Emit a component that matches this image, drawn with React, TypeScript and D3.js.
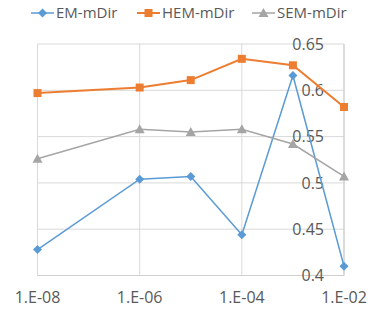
import React from 'react';
import * as d3 from 'd3';

const xValues = [1e-8, 1e-6, 1e-5, 1e-4, 1e-3, 1e-2];
const xTicks = [1e-8, 1e-6, 1e-4, 1e-2];
const xTickLabels = ['1.E-08', '1.E-06', '1.E-04', '1.E-02'];
const yTicks = [0.4, 0.45, 0.5, 0.55, 0.6, 0.65];

const emValues = [0.428, 0.504, 0.507, 0.444, 0.616, 0.41];
const hemValues = [0.597, 0.603, 0.611, 0.634, 0.627, 0.582];
const semValues = [0.526, 0.558, 0.555, 0.558, 0.542, 0.507];

const series = [
  { name: 'EM-mDir', values: emValues, color: '#5B9BD5', marker: 'diamond', width: 1.5 },
  { name: 'HEM-mDir', values: hemValues, color: '#ED7D31', marker: 'square', width: 2 },
  { name: 'SEM-mDir', values: semValues, color: '#A5A5A5', marker: 'triangle', width: 1.5 },
];

const font = '"Open Sans", sans-serif';

function marker(type: string, cx: number, cy: number, color: string, key: string) {
  if (type === 'square') {
    return <rect key={key} x={cx - 4} y={cy - 4} width={8} height={8} fill={color} />;
  }
  if (type === 'diamond') {
    return <path key={key} d={`M${cx},${cy - 4.5}L${cx + 4.5},${cy}L${cx},${cy + 4.5}L${cx - 4.5},${cy}Z`} fill={color} />;
  }
  return <path key={key} d={`M${cx},${cy - 5}L${cx + 5},${cy + 4}L${cx - 5},${cy + 4}Z`} fill={color} />;
}

export default function App() {
  const left = 37.5;
  const right = 344;
  const top = 44;
  const bottom = 275.5;

  const x = d3.scaleLog().domain([1e-8, 1e-2]).range([left, right]);
  const y = d3.scaleLinear().domain([0.4, 0.65]).range([bottom, top]);

  const line = d3.line<number>()
    .x((d, i) => x(xValues[i]))
    .y(d => y(d));

  const legendX = [31, 137, 252];

  return (
    <svg width={370} height={310} style={{ position: 'absolute', left: 0, top: 0, background: '#fff' }}>
      {/* gridlines */}
      {yTicks.map(t => (
        <line key={'gy' + t} x1={left} x2={right} y1={y(t)} y2={y(t)} stroke="#D9D9D9" strokeWidth={1} />
      ))}
      {xTicks.map(t => (
        <line key={'gx' + t} x1={x(t)} x2={x(t)} y1={top} y2={bottom} stroke="#D9D9D9" strokeWidth={1} />
      ))}
      <line x1={left} x2={right} y1={bottom} y2={bottom} stroke="#D0D0D0" strokeWidth={1.2} />
      <line x1={right} x2={right} y1={top} y2={bottom} stroke="#D0D0D0" strokeWidth={1.2} />

      {/* y labels */}
      {yTicks.map(t => (
        <text key={'ly' + t} x={324} y={y(t)} dy="0.35em" textAnchor="end" fontFamily={font} fontSize={16} fill="#595959">
          {String(t)}
        </text>
      ))}
      {/* x labels */}
      {xTicks.map((t, i) => (
        <text key={'lx' + t} x={x(t)} y={297} dy="0.35em" textAnchor="middle" fontFamily={font} fontSize={16} fill="#595959">
          {xTickLabels[i]}
        </text>
      ))}

      {/* series */}
      {series.map(s => (
        <g key={s.name}>
          <path d={line(s.values) || ''} fill="none" stroke={s.color} strokeWidth={s.width} />
          {s.values.map((v, i) => marker(s.marker, x(xValues[i]), y(v), s.color, s.name + i))}
        </g>
      ))}

      {/* legend */}
      {series.map((s, i) => (
        <g key={'lg' + s.name}>
          <line x1={legendX[i]} x2={legendX[i] + 23} y1={13} y2={13} stroke={s.color} strokeWidth={s.width} />
          {marker(s.marker, legendX[i] + 11.5, 13, s.color, 'lm' + i)}
          <text x={legendX[i] + 25} y={13} dy="0.35em" fontFamily={font} fontSize={15} fill="#595959">
            {s.name}
          </text>
        </g>
      ))}
    </svg>
  );
}
